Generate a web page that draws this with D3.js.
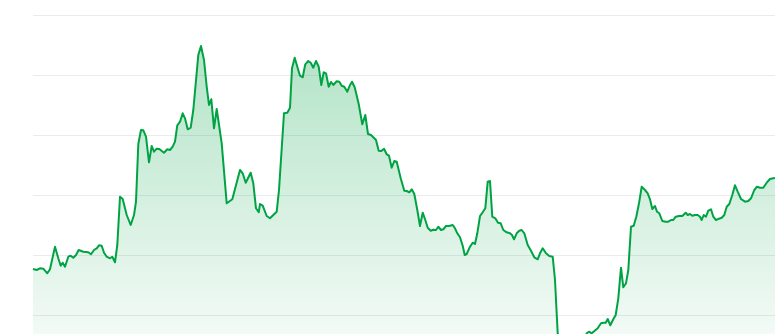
<!DOCTYPE html>
<html>
<head>
<meta charset="utf-8">
<script src="https://cdn.jsdelivr.net/npm/d3@7.9.0/dist/d3.min.js"></script>
<style>
  html, body { margin: 0; padding: 0; background: #fff; overflow: hidden; }
  svg { display: block; font-family: "Noto Sans", sans-serif; }
</style>
</head>
<body>
<svg id="chart" width="775" height="334"></svg>
<script>
// day offsets and prices
const days = [
  0, 3.7, 7, 10.3, 14.3, 17, 22, 25.3, 27.7, 29.7, 32, 35.3, 37.7, 40.3, 43, 45.7, 50.3, 55.3, 58, 61,
  63.7, 66, 68.7, 71, 73.7, 77, 79.3, 82, 84.3, 87, 89.7, 93.7, 97.7, 101, 103, 105.3, 108, 110.3, 113, 116,
  118.7, 121, 123.7, 126.3, 131, 134.3, 137, 139.7, 142, 144.3, 147, 149.7, 152, 154.7, 157.7, 160.3, 165.3, 168, 171, 173.7,
  176, 178.3, 181, 183.7, 188.7, 193.7, 199.3, 207, 209.7, 212.7, 217.7, 220.3, 223, 225.7, 227, 229.7, 233.7, 237, 240.3, 243.7,
  246, 251, 254.3, 257, 259, 261.7, 264.3, 267, 269.7, 272.3, 275.3, 277.7, 280.3, 283, 285.7, 288.3, 290.7, 293, 295.7, 298,
  300.3, 303.7, 306.3, 308.7, 311.3, 314.3, 317, 319, 321.7, 325.7, 329.3, 332.3, 335, 338, 343, 345.7, 348.3, 351, 353.7, 356,
  358.7, 361.3, 363.7, 367.7, 371.3, 373.7, 376.3, 378.7, 381.3, 384.3, 387, 389.7, 392.3, 394.7, 397.7, 400.3, 403, 405.3, 408, 410.3,
  413, 416, 419.7, 422, 424.3, 427, 429.7, 431.7, 433.7, 437, 439.7, 442, 444.3, 447, 449.7, 452.3, 454.7, 457, 459.3, 462.3,
  465, 467.7, 470.3, 473.7, 477, 479, 481, 483.7, 486.3, 488.7, 491.3, 494.7, 498, 501.3, 504.7, 507, 509.7, 513, 516.3, 519.7,
  522, 524.7, 527, 532, 539, 545, 550, 553.7, 556, 558.7, 564.7, 568, 570.3, 572.7, 574.7, 577.3, 580.3, 582.7, 585.3, 588,
  590.3, 593, 595.3, 598, 600.7, 603.3, 606, 608.7, 612, 614.7, 617, 619.3, 622, 624, 626.3, 629.3, 632.7, 635.3, 638, 640.3,
  642.7, 646, 649.3, 652.7, 654.7, 657, 659.3, 662, 664.7, 667, 668.7, 670.7, 673, 675.3, 678, 680.3, 683, 686, 688.7, 691.3,
  693.7, 696.3, 699.3, 702, 704.7, 708, 712, 715.3, 718, 721.3, 724, 727, 730.3, 733.7, 737, 740.3, 742
];
const prices = [
  126, 125, 126.7, 126.3, 121.7, 125.7, 148.3, 136.7, 129.3, 132.3, 128.3, 138.3, 139.3, 137.3, 140, 145, 143.3, 142.7, 140.7, 145,
  146.7, 149.7, 149.3, 142.3, 138.3, 136.7, 138.3, 132.7, 150, 198.3, 196, 180, 170, 180, 193.3, 251, 265, 264.7, 258.3, 232.7,
  249, 243.3, 246.3, 246, 242.3, 245.7, 245, 248.3, 253.3, 269.7, 273.3, 281.7, 276.7, 265.7, 267.3, 285, 340, 349, 335, 308.3,
  290, 295.7, 266.7, 286, 251.7, 191.7, 195.7, 225, 221.7, 212.3, 222.3, 211.7, 186.7, 182.7, 191, 189.3, 179, 176.7, 180, 183.3,
  205, 281.7, 282.3, 287.3, 326.7, 337.3, 328.3, 319.3, 317.7, 330.7, 334, 332.3, 327.3, 334, 328.3, 310, 322.7, 321.7, 308.3, 313,
  310, 313.7, 313.3, 309.3, 308.3, 303.3, 310, 313.3, 307.7, 291, 270.7, 280, 261, 260, 255, 244.3, 244, 246.3, 240.7, 239.3,
  227.3, 234, 233.3, 216.7, 204.3, 204, 202.7, 205.7, 201, 185, 169, 182.3, 175, 167.3, 164.3, 165.3, 165, 168.3, 165, 165.7,
  169, 169, 170, 166.7, 161.7, 157.7, 149.3, 140, 141, 148.3, 152.3, 151, 161.7, 179, 182.7, 186.7, 213.3, 214, 178.3, 176.7,
  172.3, 171.7, 165, 162.7, 161.7, 160, 155.7, 161.7, 164.3, 165, 161.7, 150, 144.3, 137.7, 135.7, 141.7, 146.7, 141.7, 139, 138.3,
  115, 61.7, 50, 43, 40, 45, 53, 61.7, 63.3, 61.7, 66.7, 71.7, 72.3, 72.3, 76, 69.7, 75.7, 80, 96.7, 127.3,
  107.7, 111.7, 125, 168.3, 169.3, 178.3, 191.7, 208.3, 205, 201.7, 195.7, 186, 189, 183.3, 181.7, 174, 173.3, 173.3, 175, 175,
  178.3, 179, 179, 182.3, 180, 181, 179.3, 180, 180, 178.3, 175, 180, 178.3, 184.3, 185.7, 178.3, 175, 176.3, 177.3, 180,
  188.3, 191, 200, 209.7, 203.3, 196, 193.3, 194, 196.7, 205, 208.3, 207.3, 207.3, 212.3, 216, 216.7, 217
];
const gridValues = [80, 140, 200, 260, 320, 380];

const data = days.map((d, i) => ({ day: d, price: prices[i] }));

const width = 775, height = 334;
const svg = d3.select('#chart');

let x = d3.scaleLinear().domain([0, 742]).range([33, 775]);
let y = d3.scaleLinear().domain([80, 380]).range([315, 15]);

// gradient for the area, fades out towards the bottom edge
let defs = svg.append('defs');
let grad = defs.append('linearGradient')
    .attr('id', 'fillGrad')
    .attr('gradientUnits', 'userSpaceOnUse')
    .attr('x1', 0).attr('y1', y(d3.max(prices)))
    .attr('x2', 0).attr('y2', height);
grad.append('stop').attr('offset', '0%').attr('stop-color', '#00a344').attr('stop-opacity', 0.3);
grad.append('stop').attr('offset', '100%').attr('stop-color', '#00a344').attr('stop-opacity', 0.05);

// gridlines
let grid = svg.append('g')
    .attr('transform', `translate(${x(0)},0)`)
    .call(d3.axisLeft(y).tickValues(gridValues).tickSize(-(x(742) - x(0))).tickFormat(''));
grid.select('.domain').remove();
grid.selectAll('line').attr('stroke', '#ebebeb').attr('stroke-width', 1);

let area = d3.area()
    .x(d => x(d.day))
    .y0(y(0))
    .y1(d => y(d.price));

let line = d3.line()
    .x(d => x(d.day))
    .y(d => y(d.price));

svg.append('path')
    .datum(data)
    .attr('d', area)
    .attr('fill', 'url(#fillGrad)');

svg.append('path')
    .datum(data)
    .attr('d', line)
    .attr('fill', 'none')
    .attr('stroke', '#00a344')
    .attr('stroke-width', 2)
    .attr('stroke-linejoin', 'round');
</script>
</body>
</html>
